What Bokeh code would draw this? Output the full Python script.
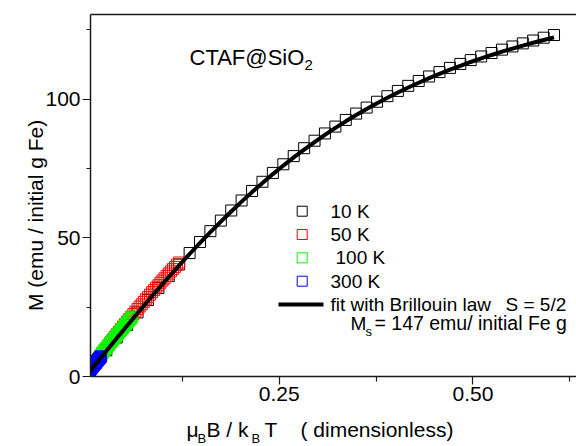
import numpy as np
from bokeh.plotting import figure
from bokeh.models import Range1d, FixedTicker, LinearAxis, Label, NumeralTickFormatter, ColumnDataSource
from bokeh.embed import file_html
from bokeh.resources import INLINE

# ---------------- data ----------------
x_10K = [0.0000, 0.0134, 0.0269, 0.0403, 0.0537, 0.0672, 0.0806, 0.0941, 0.1075, 0.1209,
         0.1344, 0.1478, 0.1612, 0.1747, 0.1881, 0.2015, 0.2150, 0.2284, 0.2418, 0.2553,
         0.2687, 0.2822, 0.2956, 0.3090, 0.3225, 0.3359, 0.3493, 0.3628, 0.3762, 0.3896,
         0.4031, 0.4165, 0.4300, 0.4434, 0.4568, 0.4703, 0.4837, 0.4971, 0.5106, 0.5240,
         0.5374, 0.5509, 0.5643, 0.5777, 0.5912, 0.6046]
M_10K = [0.10, 4.85, 9.45, 14.05, 18.62, 23.10, 27.55, 31.90, 36.20, 40.40,
         44.50, 48.50, 52.40, 56.20, 59.85, 63.45, 66.90, 70.20, 73.40, 76.50,
         79.45, 82.30, 85.00, 87.62, 90.10, 92.50, 94.78, 96.95, 99.05, 101.05,
         102.95, 104.78, 106.52, 108.16, 109.74, 111.25, 112.68, 114.06, 115.37, 116.63,
         117.83, 118.98, 120.08, 121.12, 122.14, 123.10]

x_50K = [0.0000, 0.0027, 0.0054, 0.0081, 0.0107, 0.0134, 0.0161, 0.0188, 0.0215, 0.0242,
         0.0269, 0.0296, 0.0322, 0.0349, 0.0376, 0.0403, 0.0430, 0.0457, 0.0484, 0.0511,
         0.0537, 0.0564, 0.0591, 0.0618, 0.0645, 0.0672, 0.0699, 0.0726, 0.0752, 0.0779,
         0.0806, 0.0833, 0.0860, 0.0887, 0.0914, 0.0941, 0.0967, 0.0994, 0.1021, 0.1048,
         0.1075, 0.1102, 0.1129, 0.1156, 0.1182, 0.1209]
M_50K = [0.4, 1.4, 2.4, 3.4, 4.4, 5.4, 6.4, 7.4, 8.4, 9.3,
         10.3, 11.3, 12.3, 13.3, 14.2, 15.2, 16.1, 17.1, 18.0, 18.9,
         19.8, 20.7, 21.6, 22.5, 23.4, 24.3, 25.2, 26.0, 26.9, 27.8,
         28.6, 29.5, 30.4, 31.2, 32.1, 32.9, 33.8, 34.6, 35.4, 36.3,
         37.1, 37.9, 38.7, 39.5, 40.3, 41.1]

x_100K = [0.0000, 0.0013, 0.0027, 0.0040, 0.0054, 0.0067, 0.0081, 0.0094, 0.0107, 0.0121,
          0.0134, 0.0148, 0.0161, 0.0175, 0.0188, 0.0202, 0.0215, 0.0228, 0.0242, 0.0255,
          0.0269, 0.0282, 0.0296, 0.0309, 0.0322, 0.0336, 0.0349, 0.0363, 0.0376, 0.0390,
          0.0403, 0.0417, 0.0430, 0.0443, 0.0457, 0.0470, 0.0484, 0.0497, 0.0511, 0.0524,
          0.0537, 0.0551, 0.0564, 0.0578, 0.0591, 0.0605]
M_100K = [0.3, 0.8, 1.3, 1.8, 2.3, 2.8, 3.3, 3.8, 4.3, 4.8,
          5.3, 5.8, 6.3, 6.8, 7.3, 7.8, 8.3, 8.8, 9.3, 9.8,
          10.2, 10.7, 11.2, 11.6, 12.1, 12.6, 13.0, 13.5, 13.9, 14.4,
          14.8, 15.3, 15.7, 16.2, 16.6, 17.1, 17.5, 18.0, 18.4, 18.9,
          19.3, 19.8, 20.2, 20.7, 21.1, 21.6]

x_300K = [0.0000, 0.0004, 0.0009, 0.0013, 0.0018, 0.0022, 0.0027, 0.0031, 0.0036, 0.0040,
          0.0045, 0.0049, 0.0054, 0.0058, 0.0063, 0.0067, 0.0072, 0.0076, 0.0081, 0.0085,
          0.0090, 0.0094, 0.0099, 0.0103, 0.0107, 0.0112, 0.0116, 0.0121, 0.0125, 0.0130,
          0.0134, 0.0139, 0.0143, 0.0148, 0.0152, 0.0157, 0.0161, 0.0166, 0.0170, 0.0175,
          0.0179, 0.0184, 0.0188, 0.0193, 0.0197, 0.0202]
M_300K = [0.4, 0.6, 0.7, 0.9, 1.0, 1.2, 1.3, 1.5, 1.6, 1.8,
          1.9, 2.1, 2.2, 2.4, 2.5, 2.7, 2.9, 3.0, 3.2, 3.3,
          3.5, 3.6, 3.8, 3.9, 4.1, 4.2, 4.4, 4.5, 4.7, 4.8,
          5.0, 5.2, 5.3, 5.5, 5.6, 5.8, 5.9, 6.1, 6.2, 6.4,
          6.5, 6.7, 6.8, 7.0, 7.1, 7.3]

# Brillouin fit S = 5/2, Ms = 147 (curve as read)
x_fit = x_10K
M_fit = [0.00, 4.61, 9.20, 13.77, 18.30, 22.79, 27.22, 31.58, 35.86, 40.05,
         44.16, 48.15, 52.05, 55.83, 59.49, 63.04, 66.47, 69.78, 72.97, 76.04,
         78.98, 81.81, 84.52, 87.12, 89.61, 91.99, 94.26, 96.43, 98.51, 100.49,
         102.38, 104.18, 105.90, 107.54, 109.10, 110.60, 112.02, 113.38, 114.67, 115.91,
         117.09, 118.22, 119.29, 120.32, 121.30, 122.24]

series_names = ["10 K", "50 K", "100 K", "300 K"]
series_colors = ["#000000", "#ff0000", "#00ff00", "#0000ff"]

y_ticks = [0, 50, 100]
y_minor = [25, 75, 125]
x_ticks = [0.25, 0.50]
x_minor = [0.125, 0.375, 0.625]

# ---------------- layout ----------------
W, H = 576, 446
BL, BT, BB = 90, 14, 70          # where the axes sit (pixels)
X0, X1 = 0.0065, 0.6336          # data value at left axis / right edge
Y0, Y1 = 0.0, 130.5              # data value at bottom axis / top line
FW = W - BL
FH = H - BT - BB
DX = (X1 - X0) / FW
DY = (Y1 - Y0) / FH
XA, XB = X0 - BL * DX, X1
YA, YB = Y0 - BB * DY, Y1 + BT * DY
FONT = "Liberation Sans"


def sx(px):
    return XA + px * DX


def sy(py):
    return YA + (H - py) * DY


p = figure(width=W, height=H, x_range=Range1d(XA, XB), y_range=Range1d(YA, YB),
           output_backend="svg", toolbar_location=None,
           min_border_left=0, min_border_right=0, min_border_top=0, min_border_bottom=0)
p.outline_line_color = None
p.grid.visible = False
p.background_fill_color = "white"
p.border_fill_color = "white"

AX_COL = "#1a1a1a"
xa = p.xaxis[0]
xa.ticker = FixedTicker(ticks=x_ticks, minor_ticks=x_minor)
xa.formatter = NumeralTickFormatter(format="0.00")
xa.fixed_location = Y0
xa.bounds = (X0, X1)
ya = p.yaxis[0]
ya.ticker = FixedTicker(ticks=y_ticks, minor_ticks=y_minor)
ya.fixed_location = X0
ya.bounds = (Y0, Y1)
for ax in (xa, ya):
    ax.axis_line_color = AX_COL
    ax.axis_line_width = 1.5
    ax.major_tick_line_color = AX_COL
    ax.minor_tick_line_color = AX_COL
    ax.major_tick_line_width = 1.2
    ax.minor_tick_line_width = 1.2
    ax.major_tick_in = 0
    ax.minor_tick_in = 0
    ax.major_tick_out = 8
    ax.minor_tick_out = 5
    ax.major_label_text_font = FONT
    ax.major_label_text_font_size = "21px"
    ax.major_label_text_color = "black"
    ax.major_label_standoff = 2
ya.minor_tick_out = 4

top = LinearAxis(ticker=FixedTicker(ticks=[], minor_ticks=[]), major_tick_out=0, minor_tick_out=0,
                 major_tick_in=0, minor_tick_in=0, major_label_text_font_size="0px",
                 axis_line_color=AX_COL, axis_line_width=1.5,
                 fixed_location=Y1, bounds=(X0, X1))
p.add_layout(top, "above")

# ---------------- data marks ----------------
xs = [x_10K, x_50K, x_100K, x_300K]
ms = [M_10K, M_50K, M_100K, M_300K]
for xv, mv, col in zip(xs, ms, series_colors):
    src = ColumnDataSource(dict(x=xv, y=mv))
    p.scatter("x", "y", source=src, marker="square", size=11, fill_color=None,
              line_color=col, line_width=1)

p.line(x_fit, M_fit, line_color="black", line_width=4)

# white masks: marks are clipped at the axes, as in the original
p.quad(left=[XA], right=[X0], bottom=[YA], top=[YB], fill_color="white", line_color=None)
p.quad(left=[XA], right=[XB], bottom=[YA], top=[Y0], fill_color="white", line_color=None)

# ---------------- text helper ----------------
SHIFT = 0.34  # compensation so that the given py is the alphabetic baseline


def lab(px, py, text, size, angle=0.0, align="left", baseline="alphabetic", shift=True):
    fs = float(size)
    yy = py - SHIFT * fs if shift else py
    p.add_layout(Label(x=sx(px), y=sy(yy), text=text, text_font=FONT,
                       text_font_size=f"{fs}px", text_color="black",
                       text_align=align, text_baseline=baseline, angle=angle))


# ---------------- legend (manual) ----------------
leg_rows_py = [210.7, 234.0, 257.3, 280.7]
leg_text_px = [330, 330, 335, 330]
for name, col, py, tx in zip(series_names, series_colors, leg_rows_py, leg_text_px):
    p.scatter([sx(301.7)], [sy(py)], marker="square", size=10, fill_color=None,
              line_color=col, line_width=1)
    lab(tx, py + 6.5, name, 19)

p.line([sx(278), sx(323)], [sy(304), sy(304)], line_color="black", line_width=4)

lab(330, 310, "fit with Brillouin law", 19)
lab(505, 310, "S = 5/2", 19)
lab(350, 329, "M", 19)
lab(365, 335, "s", 13)
lab(374, 329, "= 147 emu/ initial Fe g", 19.5)

# sample label
lab(189, 64, "CTAF@SiO", 22)
lab(304, 70, "2", 15)

# axis titles
lab(35, 212, "M  (emu / initial g Fe)", 21, angle=np.pi / 2, align="center",
    baseline="middle", shift=False)
lab(186, 436, "\u03bc", 21)
lab(197, 442, "B", 13)
lab(206, 436, "B / k", 21)
lab(251, 442, "B", 13)
lab(264, 436, "T", 21)
lab(300, 436, "( dimensionless)", 21)

open("out.html", "w").write(file_html(p, INLINE))
